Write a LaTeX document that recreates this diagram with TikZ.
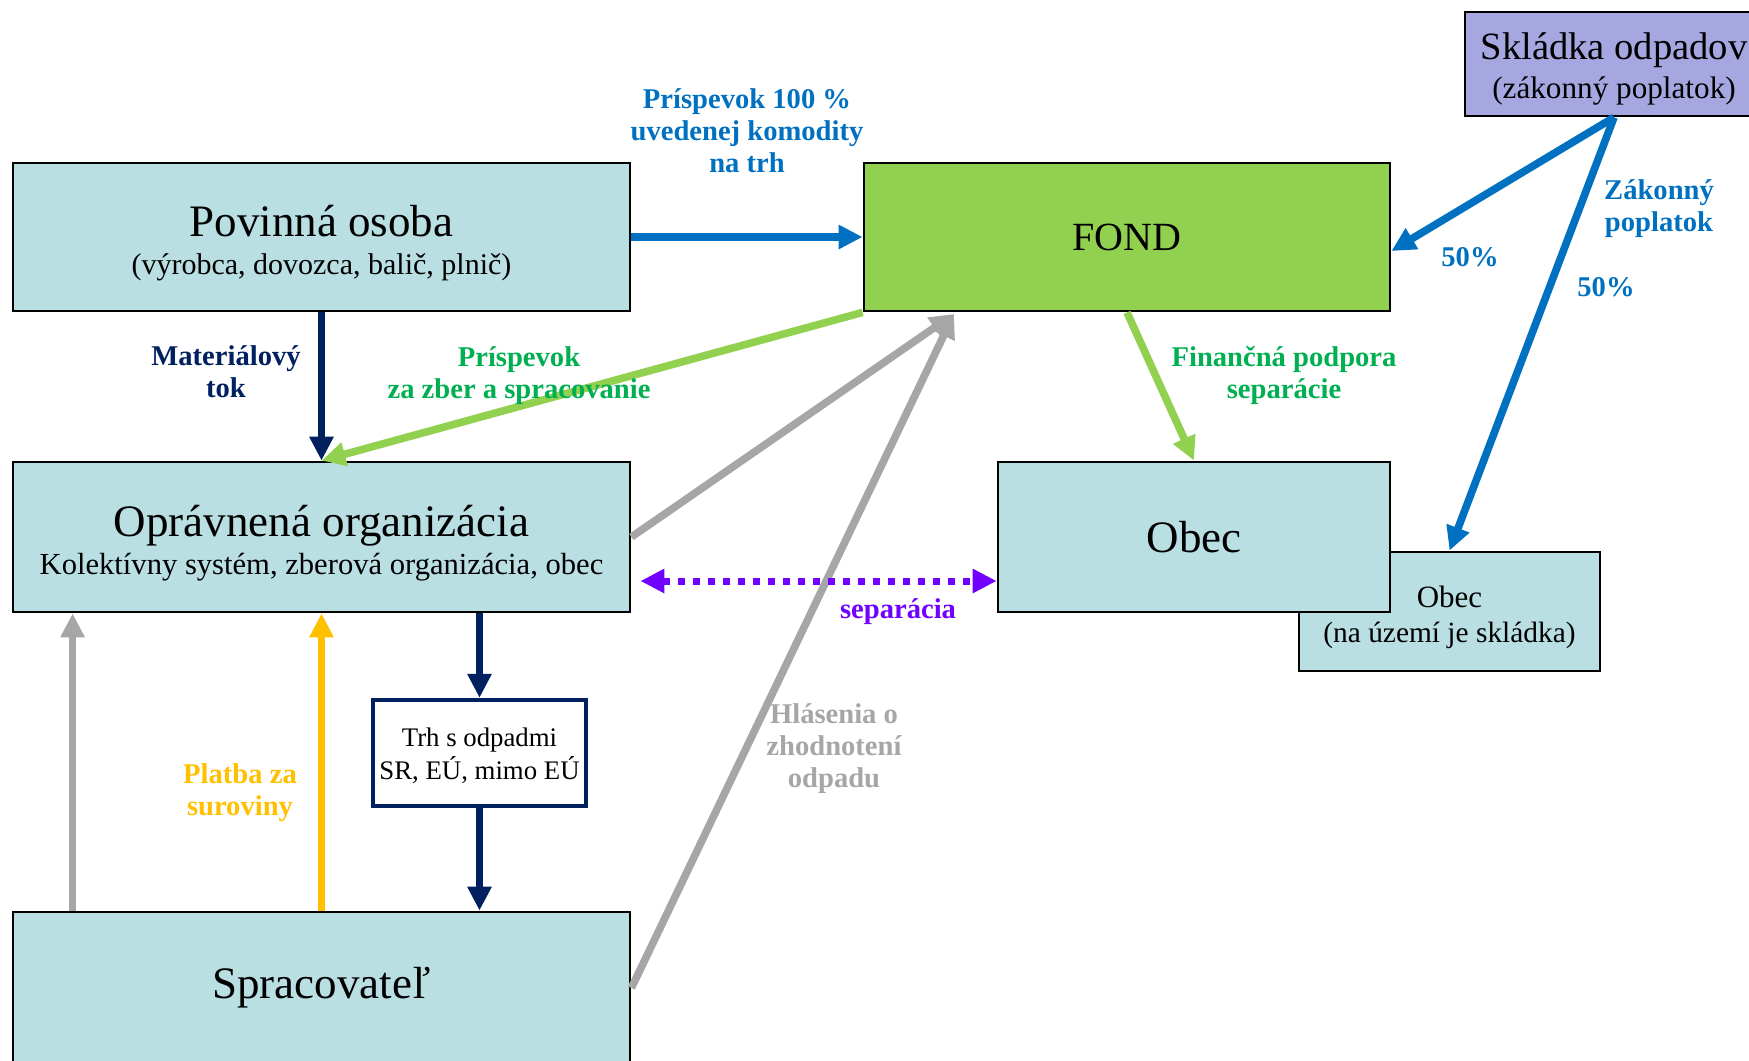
\documentclass[tikz,border=0pt]{standalone}
\usepackage{fontspec}
\setmainfont{Liberation Serif}
\usetikzlibrary{arrows.meta,calc}
\definecolor{boxfill}{RGB}{185,223,227}
\definecolor{fondgreen}{RGB}{146,208,80}
\definecolor{skladfill}{RGB}{166,166,224}
\definecolor{flowblue}{RGB}{0,112,192}
\definecolor{flownavy}{RGB}{0,32,96}
\definecolor{labelgreen}{RGB}{0,176,80}
\definecolor{flowgray}{RGB}{166,166,166}
\definecolor{flowyellow}{RGB}{255,192,0}
\definecolor{flowviolet}{RGB}{112,0,255}

\begin{document}
\begin{tikzpicture}[x=0.5pt,y=-0.5pt,
		box/.style={draw=black,line width=1.4pt,fill=boxfill,inner sep=0pt},
		boxtext/.style={align=center,inner sep=0pt},
		boxtitle/.style={font=\fontsize{22.5}{19}\selectfont},
		flow/.style={line width=3.8pt,-{Triangle[length=12pt,width=11.5pt]}},
		lbl/.style={font=\bfseries\fontsize{14.3}{16}\selectfont,align=center,inner sep=0pt}]
		\useasboundingbox (0,0) rectangle (1749,1060);
		\clip (0,0) rectangle (1749,1060);

		\node[box,minimum width=308.5pt,minimum height=74pt] (povinna) at (321.5,237) {};
		\node[boxtext,boxtitle] (povinnatxt) at (321.5,243) {Povinná osoba\\{\fontsize{15}{18}\selectfont(výrobca, dovozca, balič, plnič)}};
		\node[box,fill=fondgreen,font=\fontsize{20}{24}\selectfont,minimum width=263pt,minimum height=74pt] (fond) at (1127,237) {FOND};
		\node[box,fill=skladfill,minimum width=149pt,minimum height=52pt] (sklad) at (1614,64) {};
		\node[boxtext,font=\fontsize{19.3}{19.2}\selectfont] (skladtxt) at (1614,69) {Skládka odpadov\\{\fontsize{15.6}{17}\selectfont(zákonný poplatok)}};
		\node[box,minimum width=308.5pt,minimum height=75pt] (opravnena) at (321.5,537) {};
		\node[boxtext,boxtitle] (opravnenatxt) at (321.5,543) {Oprávnená organizácia\\{\fontsize{15.3}{18}\selectfont Kolektívny systém, zberová organizácia, obec}};
		\node[box,minimum width=150.5pt,minimum height=59.5pt] (obec2) at (1449.5,611.5) {};
		\node[boxtext,font=\fontsize{15.5}{17.5}\selectfont] (obec2txt) at (1449.5,617.5) {Obec\\{\fontsize{14.7}{17}\selectfont(na území je skládka)}};
		\node[box,boxtitle,minimum width=196pt,minimum height=75pt] (obec) at (1194,537) {Obec};
		\node[box,fill=white,draw=flownavy,line width=2.2pt,minimum width=106.5pt,minimum height=53pt] (trh) at (479.5,753) {};
		\node[boxtext,font=\fontsize{13.4}{16.5}\selectfont] (trhtxt) at (479.5,756) {Trh s odpadmi\\SR, EÚ, mimo EÚ};
		\node[box,boxtitle,minimum width=308.5pt,minimum height=76pt] (sprac) at (321.5,988) {Spracovateľ};

		\coordinate (fondin) at (954,314);
		\draw[flow,flowblue] (povinna.east) -- (fond.west);
		\draw[flow,flownavy] (povinna.south) -- (opravnena.north);
		\draw[flow,fondgreen] (fond.south west) -- (opravnena.north);
		\draw[flow,flowgray] (opravnena.east) -- (fondin);
		\draw[flow,flowgray] (sprac.east) -- (fondin);
		\draw[flow,fondgreen] (fond.south) -- (obec.north);
		\draw[flow,flowblue] (sklad.south) -- ($(fond.east)+(0,14)$);
		\draw[flow,flowblue] (sklad.south) -- (obec2.north);
		\draw[flowviolet,line width=3.5pt,dash pattern=on 3.5pt off 4pt,{Triangle[length=12pt,width=11.5pt]}-{Triangle[length=12pt,width=11.5pt]}] ($(opravnena.east)+(9,44)$) -- ($(obec.west)+(0,44)$);
		\draw[flow,flownavy] (trh.north |- opravnena.south) -- (trh.north);
		\draw[flow,flownavy] (trh.south) -- (trh.south |- sprac.north);
		\draw[flow,flowgray] ($(sprac.north west)+(61,0)$) -- ($(opravnena.south west)+(61,0)$);
		\draw[flow,flowyellow] (sprac.north) -- (opravnena.south);

		\node[lbl,flowblue] (prispevok) at (747,131) {Príspevok 100 \%\\uvedenej komodity\\na trh};
		\node[lbl,flownavy] (material) at (226,372) {Materiálový\\tok};
		\node[lbl,labelgreen] (zber) at (519,375.5) {Príspevok\\za zber a spracovanie};
		\node[lbl,labelgreen] (financna) at (1284,375.5) {Finančná podpora\\separácie};
		\node[lbl,flowblue] (zakonny) at (1659,208.5) {Zákonný\\poplatok};
		\node[lbl,flowblue] (polovica1) at (1470,257) {50\%};
		\node[lbl,flowblue] (polovica2) at (1606,287) {50\%};
		\node[lbl,flowviolet] (separacia) at (898,612) {separácia};
		\node[lbl,flowgray] (hlasenia) at (834,749) {Hlásenia o\\zhodnotení\\odpadu};
		\node[lbl,flowyellow] (platba) at (240,793) {Platba za\\suroviny};
\end{tikzpicture}
\end{document}
